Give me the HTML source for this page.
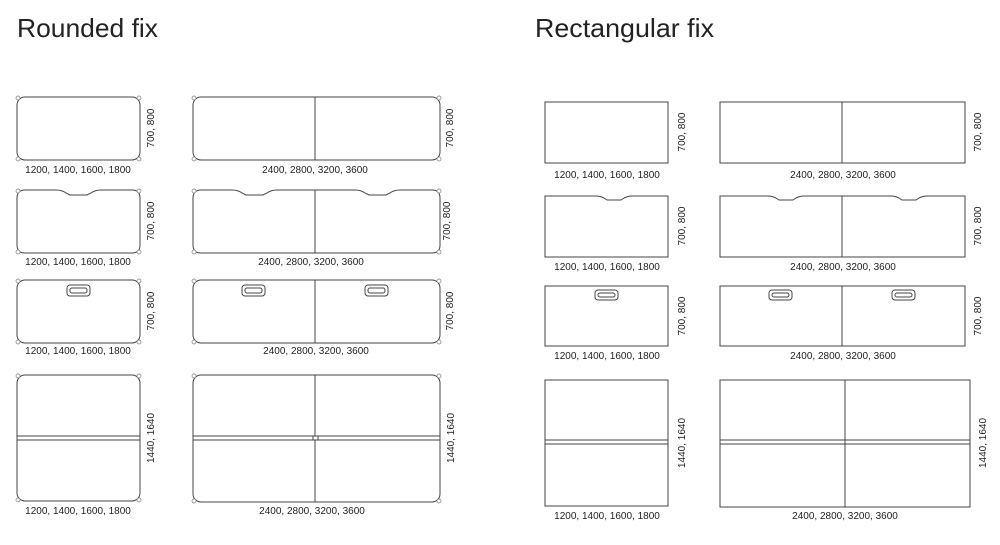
<!DOCTYPE html>
<html><head><meta charset="utf-8"><style>
html,body{margin:0;padding:0;background:#fff;}
svg{display:block}
text{font-family:"Liberation Sans",sans-serif;fill:#222}
.l{font-size:10px;text-anchor:middle}
.t{font-size:26px;fill:#222}
.s{fill:none;stroke:#444;stroke-width:1}
.c{fill:#fff;stroke:#777;stroke-width:0.7}
</style></head><body>
<svg width="1000" height="545" viewBox="0 0 1000 545">
<text class="t" x="17" y="37" textLength="141" lengthAdjust="spacingAndGlyphs">Rounded fix</text>
<text class="t" x="535" y="37" textLength="179" lengthAdjust="spacingAndGlyphs">Rectangular fix</text>

<rect class="s" x="17" y="97" width="123" height="63" rx="8"/>
<rect class="s" x="193" y="97" width="247" height="63" rx="8"/>
<line class="s" x1="315" y1="97" x2="315" y2="160"/>
<path class="s" d="M25 190 H56 Q62 190 66 193 L70 195 H87 L91 193 Q95 190 101 190 H132 Q140 190 140 198 V245 Q140 253 132 253 H25 Q17 253 17 245 V198 Q17 190 25 190 Z"/>
<path class="s" d="M201 190 H232 Q238 190 242 193 L246 195 H263 L267 193 Q271 190 277 190 H355 Q361 190 365 193 L369 195 H386 L390 193 Q394 190 400 190 H432 Q440 190 440 198 V245 Q440 253 432 253 H201 Q193 253 193 245 V198 Q193 190 201 190 Z"/>
<line class="s" x1="315" y1="190" x2="315" y2="253"/>
<rect class="s" x="17" y="280" width="123" height="63" rx="8"/>
<rect class="s" x="193" y="280" width="247" height="63" rx="8"/>
<line class="s" x1="315" y1="280" x2="315" y2="343"/>
<g class="s">
<rect x="67" y="285" width="23" height="11" rx="3"/><rect x="70" y="288" width="17" height="5" rx="2"/>
<rect x="242" y="285" width="23" height="11" rx="3"/><rect x="245" y="288" width="17" height="5" rx="2"/>
<rect x="365" y="285" width="23" height="11" rx="3"/><rect x="368" y="288" width="17" height="5" rx="2"/>
</g>
<rect class="s" x="17" y="375" width="123" height="126" rx="8"/>
<rect class="s" x="17" y="436" width="123" height="4" style="fill:#fff"/>
<rect class="s" x="193" y="375" width="247" height="127" rx="8"/>
<rect class="s" x="193" y="436" width="247" height="4" style="fill:#fff"/>
<line class="s" x1="315" y1="375" x2="315" y2="502"/>
<rect class="s" x="313" y="436" width="5" height="4" style="fill:#fff"/>

<g class="c">
<circle cx="18" cy="98" r="2"/><circle cx="139" cy="98" r="2"/><circle cx="18" cy="159" r="2"/><circle cx="139" cy="159" r="2"/>
<circle cx="194" cy="98" r="2"/><circle cx="439" cy="98" r="2"/><circle cx="194" cy="159" r="2"/><circle cx="439" cy="159" r="2"/>
<circle cx="18" cy="191" r="2"/><circle cx="139" cy="191" r="2"/><circle cx="18" cy="252" r="2"/><circle cx="139" cy="252" r="2"/>
<circle cx="194" cy="191" r="2"/><circle cx="439" cy="191" r="2"/><circle cx="194" cy="252" r="2"/><circle cx="439" cy="252" r="2"/>
<circle cx="18" cy="281" r="2"/><circle cx="139" cy="281" r="2"/><circle cx="18" cy="342" r="2"/><circle cx="139" cy="342" r="2"/>
<circle cx="194" cy="281" r="2"/><circle cx="439" cy="281" r="2"/><circle cx="194" cy="342" r="2"/><circle cx="439" cy="342" r="2"/>
<circle cx="18" cy="376" r="2"/><circle cx="139" cy="376" r="2"/><circle cx="18" cy="500" r="2"/><circle cx="139" cy="500" r="2"/>
<circle cx="194" cy="376" r="2"/><circle cx="439" cy="376" r="2"/><circle cx="194" cy="501" r="2"/><circle cx="439" cy="501" r="2"/>
</g>

<text class="l" x="78" y="173">1200, 1400, 1600, 1800</text>
<text class="l" x="315" y="173">2400, 2800, 3200, 3600</text>
<text class="l" x="78" y="265">1200, 1400, 1600, 1800</text>
<text class="l" x="311" y="265">2400, 2800, 3200, 3600</text>
<text class="l" x="78" y="354">1200, 1400, 1600, 1800</text>
<text class="l" x="316" y="354">2400, 2800, 3200, 3600</text>
<text class="l" x="78" y="514">1200, 1400, 1600, 1800</text>
<text class="l" x="312" y="514">2400, 2800, 3200, 3600</text>
<text class="l" transform="translate(154,128) rotate(-90)">700, 800</text>
<text class="l" transform="translate(453,128) rotate(-90)">700, 800</text>
<text class="l" transform="translate(154,221) rotate(-90)">700, 800</text>
<text class="l" transform="translate(450,221) rotate(-90)">700, 800</text>
<text class="l" transform="translate(154,311) rotate(-90)">700, 800</text>
<text class="l" transform="translate(453,311) rotate(-90)">700, 800</text>
<text class="l" transform="translate(154,438) rotate(-90)">1440, 1640</text>
<text class="l" transform="translate(454,438) rotate(-90)">1440, 1640</text>

<rect class="s" x="545" y="102" width="123" height="61"/>
<rect class="s" x="720" y="102" width="245" height="61"/>
<line class="s" x1="842" y1="102" x2="842" y2="163"/>
<path class="s" d="M545 196 H596 Q600 196 604 198 L607 200 H621 L624 198 Q628 196 632 196 H668 V257 H545 Z"/>
<path class="s" d="M720 196 H768 Q772 196 776 198 L779 200 H793 L796 198 Q800 196 804 196 H891 Q895 196 899 198 L902 200 H916 L919 198 Q923 196 927 196 H965 V257 H720 Z"/>
<line class="s" x1="842" y1="196" x2="842" y2="257"/>
<rect class="s" x="545" y="286" width="123" height="60"/>
<rect class="s" x="720" y="286" width="245" height="60"/>
<line class="s" x1="842" y1="286" x2="842" y2="346"/>
<g class="s">
<rect x="595" y="290" width="23" height="10" rx="3"/><rect x="598" y="293" width="17" height="4" rx="2"/>
<rect x="769" y="290" width="23" height="10" rx="3"/><rect x="772" y="293" width="17" height="4" rx="2"/>
<rect x="892" y="290" width="23" height="10" rx="3"/><rect x="895" y="293" width="17" height="4" rx="2"/>
</g>
<rect class="s" x="545" y="380" width="123" height="126"/>
<rect class="s" x="545" y="440" width="123" height="4" style="fill:#fff"/>
<rect class="s" x="720" y="380" width="250" height="127"/>
<rect class="s" x="720" y="440" width="250" height="4" style="fill:#fff"/>
<line class="s" x1="845" y1="380" x2="845" y2="507"/>

<text class="l" x="607" y="178">1200, 1400, 1600, 1800</text>
<text class="l" x="843" y="178">2400, 2800, 3200, 3600</text>
<text class="l" x="607" y="270">1200, 1400, 1600, 1800</text>
<text class="l" x="843" y="270">2400, 2800, 3200, 3600</text>
<text class="l" x="607" y="359">1200, 1400, 1600, 1800</text>
<text class="l" x="843" y="359">2400, 2800, 3200, 3600</text>
<text class="l" x="607" y="519">1200, 1400, 1600, 1800</text>
<text class="l" x="845" y="519">2400, 2800, 3200, 3600</text>
<text class="l" transform="translate(685,132) rotate(-90)">700, 800</text>
<text class="l" transform="translate(981,132) rotate(-90)">700, 800</text>
<text class="l" transform="translate(685,226) rotate(-90)">700, 800</text>
<text class="l" transform="translate(981,226) rotate(-90)">700, 800</text>
<text class="l" transform="translate(685,316) rotate(-90)">700, 800</text>
<text class="l" transform="translate(981,316) rotate(-90)">700, 800</text>
<text class="l" transform="translate(685,443) rotate(-90)">1440, 1640</text>
<text class="l" transform="translate(986,443) rotate(-90)">1440, 1640</text>
</svg>
</body></html>
